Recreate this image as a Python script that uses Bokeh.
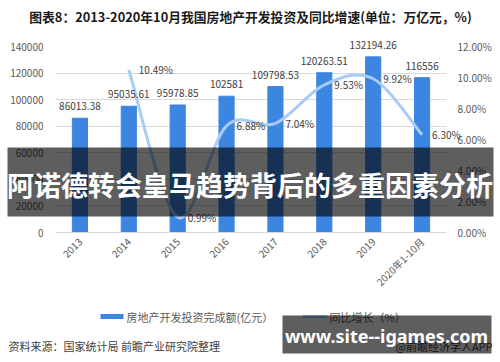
import math
from bokeh.plotting import figure
from bokeh.models import (Range1d, LinearAxis, FixedTicker, NumeralTickFormatter,
                          PrintfTickFormatter, ColumnDataSource)
from bokeh.core.properties import value
from bokeh.embed import file_html
from bokeh.resources import INLINE

# ---------------- data ----------------
years = ["2013", "2014", "2015", "2016", "2017", "2018", "2019", "2020年1-10月"]
investment = [86013.38, 95035.61, 95978.85, 102581, 109798.53, 120263.51, 132194.26, 116556]
investment_labels = ["86013.38", "95035.61", "95978.85", "102581", "109798.53",
                     "120263.51", "132194.26", "116556"]
growth = [None, 10.49, 0.99, 6.88, 7.04, 9.53, 9.92, 6.30]
growth_labels = ["", "10.49%", "0.99%", "6.88%", "7.04%", "9.53%", "9.92%", "6.30%"]
left_ticks = [0, 20000, 40000, 60000, 80000, 100000, 120000, 140000]
right_ticks = [0, 2, 4, 6, 8, 10, 12]

title_text = "图表8：2013-2020年10月我国房地产开发投资及同比增速(单位：万亿元，%)"
legend_bar = "房地产开发投资完成额(亿元）"
legend_line = "同比增长（%）"
source_text = "资料来源：国家统计局 前瞻产业研究院整理"
credit_text = "@前瞻经济学人APP"
banner_text = "阿诺德转会皇马趋势背后的多重因素分析"
site_text = "www.site--igames.com"

FONT = "Noto Sans CJK SC"
BAR = "#3C85E0"
LINE = "#A8CCF5"
TXT = "#404040"
AX = "#595959"

# ---------------- geometry helpers (page pixel -> data) ----------------
W, H = 500, 362
FL, FR, FT, FB = 55, 446, 46, 232  # plot frame in page pixels
N = len(years)
YMAX = 140000
def px2x(ix):
    return (ix - FL) / (FR - FL) * N
def px2y(iy):
    return (FB - iy) / (FB - FT) * YMAX

p = figure(width=W, height=H, x_range=Range1d(0, N), y_range=Range1d(0, YMAX),
           output_backend="svg", toolbar_location=None,
           min_border_left=FL, min_border_right=W - FR,
           min_border_top=FT, min_border_bottom=H - FB)
p.outline_line_color = None
p.background_fill_color = "white"
p.border_fill_color = "white"
p.extra_y_ranges = {"pct": Range1d(0, 12)}

xs = [i + 0.5 for i in range(N)]

# grid
p.xgrid.visible = False
p.ygrid.ticker = FixedTicker(ticks=left_ticks)
p.ygrid.grid_line_color = "#D9D9D9"

def style_axis(ax, standoff):
    ax.axis_line_color = None
    ax.major_tick_line_color = None
    ax.minor_tick_line_color = None
    ax.major_tick_out = 0
    ax.major_tick_in = 0
    ax.minor_tick_out = 0
    ax.minor_tick_in = 0
    ax.axis_label_standoff = 0
    ax.major_label_standoff = standoff
    ax.major_label_text_font = FONT
    ax.major_label_text_font_size = "10px"
    ax.major_label_text_color = AX

# left axis
ya = p.yaxis[0]
ya.ticker = FixedTicker(ticks=left_ticks)
ya.formatter = NumeralTickFormatter(format="0")
style_axis(ya, 12)

# right axis
ra = LinearAxis(y_range_name="pct", ticker=FixedTicker(ticks=right_ticks),
                formatter=PrintfTickFormatter(format="%.2f%%"))
style_axis(ra, 11)
p.add_layout(ra, "right")

# bottom axis
xa = p.xaxis[0]
xa.ticker = FixedTicker(ticks=xs)
xa.major_label_overrides = {x: y for x, y in zip(xs, years)}
xa.major_label_orientation = math.pi / 4
style_axis(xa, 7)
xa.axis_line_color = "#D9D9D9"

# bars
p.vbar(x=xs, top=investment, width=0.31, bottom=0, fill_color=BAR, line_color=BAR)

# smoothed growth line (Catmull-Rom -> cubic Bezier)
pts = [(x, g) for x, g in zip(xs, growth) if g is not None]
bz = dict(x0=[], y0=[], x1=[], y1=[], cx0=[], cy0=[], cx1=[], cy1=[])
for i in range(len(pts) - 1):
    p0 = pts[i - 1] if i > 0 else pts[i]
    p1 = pts[i]
    p2 = pts[i + 1]
    p3 = pts[i + 2] if i + 2 < len(pts) else pts[i + 1]
    bz["x0"].append(p1[0]); bz["y0"].append(p1[1])
    bz["x1"].append(p2[0]); bz["y1"].append(p2[1])
    bz["cx0"].append(p1[0] + (p2[0] - p0[0]) / 6); bz["cy0"].append(p1[1] + (p2[1] - p0[1]) / 6)
    bz["cx1"].append(p2[0] - (p3[0] - p1[0]) / 6); bz["cy1"].append(p2[1] - (p3[1] - p1[1]) / 6)
p.bezier(x0="x0", y0="y0", x1="x1", y1="y1", cx0="cx0", cy0="cy0", cx1="cx1", cy1="cy1",
         source=ColumnDataSource(bz), y_range_name="pct", line_color=LINE, line_width=3)

# value labels (overlay level so they are not clipped to the frame)
bar_src = ColumnDataSource(dict(x=xs, y=investment, t=investment_labels))
p.text(x="x", y="y", text="t", source=bar_src, text_align="center",
       text_baseline="middle", y_offset=-12, text_font=value(FONT),
       text_font_size="10px", text_color=TXT, level="overlay")
gx = [x for x, g in zip(xs, growth) if g is not None]
gy = [g for g in growth if g is not None]
gt = [t for t, g in zip(growth_labels, growth) if g is not None]
g_src = ColumnDataSource(dict(x=gx, y=gy, t=gt))
p.text(x="x", y="y", text="t", source=g_src, y_range_name="pct",
       text_align="left", text_baseline="middle", x_offset=10,
       text_font=value(FONT), text_font_size="10px", text_color=TXT, level="overlay")

# legend (drawn below the axis)
p.quad(left=[px2x(100)], right=[px2x(123)], top=[px2y(313.5)], bottom=[px2y(318.5)],
       fill_color=BAR, line_alpha=0, level="overlay")
p.text(x=[px2x(126)], y=[px2y(316)], text=[legend_bar], text_align="left",
       text_baseline="middle", text_font=value(FONT), text_font_size="11px",
       text_color=AX, level="overlay")
p.segment(x0=[px2x(302)], x1=[px2x(327)], y0=[px2y(316)], y1=[px2y(316)],
          line_color=LINE, line_width=3, level="overlay")
p.text(x=[px2x(329)], y=[px2y(316)], text=[legend_line], text_align="left",
       text_baseline="middle", text_font=value(FONT), text_font_size="11px",
       text_color=AX, level="overlay")

# title and footer texts
p.text(x=[px2x(250)], y=[px2y(16)], text=[title_text], text_align="center",
       text_baseline="middle", text_font=value(FONT), text_font_size="12.8px",
       text_font_style="bold", text_color="#1A1A1A", level="overlay")
p.text(x=[px2x(8)], y=[px2y(345)], text=[source_text], text_align="left",
       text_baseline="middle", text_font=value(FONT), text_font_size="11px",
       text_color=TXT, level="overlay")
p.text(x=[px2x(492)], y=[px2y(345)], text=[credit_text], text_align="right",
       text_baseline="middle", text_font=value(FONT), text_font_size="11px",
       text_color=TXT, level="overlay")

# overlays
p.quad(left=[px2x(7)], right=[px2x(493)], top=[px2y(147)], bottom=[px2y(216)],
       fill_color="black", fill_alpha=0.63, line_alpha=0, level="overlay")
p.text(x=[px2x(249.5)], y=[px2y(184)], text=[banner_text], text_align="center",
       text_baseline="middle", text_font=value(FONT), text_font_size="27px",
       text_font_style="bold", text_color="white", level="overlay")
p.quad(left=[px2x(282)], right=[px2x(491)], top=[px2y(315)], bottom=[px2y(353)],
       fill_color="black", fill_alpha=0.63, line_alpha=0, level="overlay")
p.text(x=[px2x(386)], y=[px2y(335)], text=[site_text], text_align="center",
       text_baseline="middle", text_font=value("Noto Sans"), text_font_size="18px",
       text_font_style="bold", text_color="white", level="overlay")

open("out.html", "w").write(file_html(p, INLINE))
